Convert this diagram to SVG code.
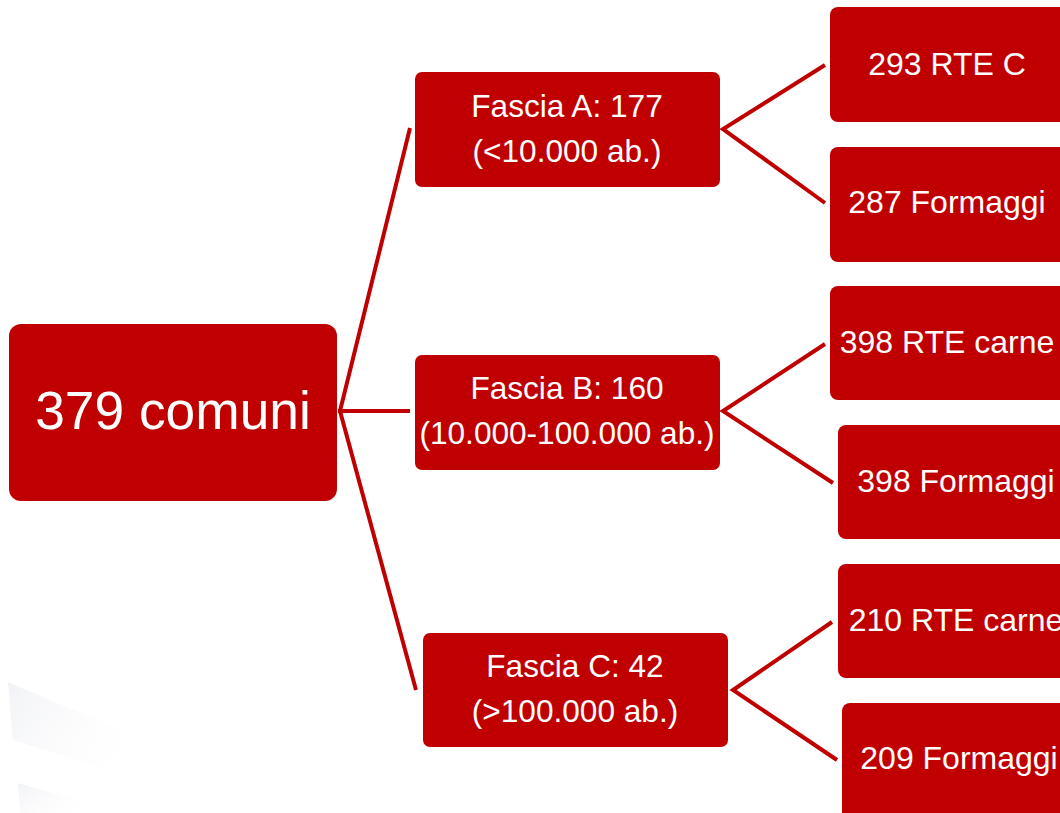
<svg xmlns="http://www.w3.org/2000/svg" width="1060" height="813" viewBox="0 0 1060 813">
<defs>
<style>
.box{fill:#C00000;}
.t{fill:#fff;font-family:"Liberation Sans",Arial,sans-serif;text-anchor:middle;}
.m{font-size:31.6px;}
.r{font-size:32px;}
.c{fill:none;stroke:#C00000;stroke-width:4;}
</style>
<linearGradient id="bg1" x1="0" y1="0" x2="1" y2="0.4">
<stop offset="0" stop-color="#f2f3f6"/>
<stop offset="1" stop-color="#ffffff" stop-opacity="0"/>
</linearGradient>
</defs>
<rect width="1060" height="813" fill="#fff"/>
<g id="background">
<polygon points="8,682 13,740 170,790 120,730" fill="url(#bg1)"/>
<polygon points="18,783 20,813 120,813" fill="url(#bg1)"/>
</g>
<g id="connectors">
<polyline class="c" points="410,128 340,411 416,690"/>
<line class="c" x1="338" y1="411" x2="410" y2="411"/>
<polyline class="c" points="825,65 723,129 825,203"/>
<polyline class="c" points="825,344 723,411 833,483"/>
<polyline class="c" points="832,622 733,690 837,760"/>
</g>
<g id="root">
<rect class="box" x="9" y="324" width="328" height="177" rx="12"/>
<text class="t" x="173" y="429" font-size="53.3">379 comuni</text>
</g>
<g id="fasciaA">
<rect class="box" x="415" y="72" width="305" height="115" rx="7"/>
<text class="t m" x="567" y="117">Fascia A: 177</text>
<text class="t m" x="567" y="162">(&lt;10.000 ab.)</text>
</g>
<g id="fasciaB">
<rect class="box" x="415" y="355" width="305" height="115" rx="7"/>
<text class="t m" x="567" y="399">Fascia B: 160</text>
<text class="t m" x="567" y="444">(10.000-100.000 ab.)</text>
</g>
<g id="fasciaC">
<rect class="box" x="423" y="633" width="305" height="114" rx="7"/>
<text class="t m" x="575" y="677">Fascia C: 42</text>
<text class="t m" x="575" y="722">(&gt;100.000 ab.)</text>
</g>
<g id="a1">
<rect class="box" x="830" y="7" width="240" height="115" rx="8"/>
<text class="t r" x="947" y="75">293 RTE C</text>
</g>
<g id="a2">
<rect class="box" x="830" y="147" width="240" height="115" rx="8"/>
<text class="t r" x="947" y="213">287 Formaggi</text>
</g>
<g id="b1">
<rect class="box" x="830" y="286" width="240" height="114" rx="8"/>
<text class="t r" x="947" y="353">398 RTE carne</text>
</g>
<g id="b2">
<rect class="box" x="838" y="425" width="240" height="114" rx="8"/>
<text class="t r" x="956" y="492">398 Formaggi</text>
</g>
<g id="c1">
<rect class="box" x="838" y="564" width="240" height="114" rx="8"/>
<text class="t r" x="956" y="631">210 RTE carne</text>
</g>
<g id="c2">
<rect class="box" x="842" y="703" width="240" height="120" rx="8"/>
<text class="t r" x="959" y="769">209 Formaggi</text>
</g>
</svg>
